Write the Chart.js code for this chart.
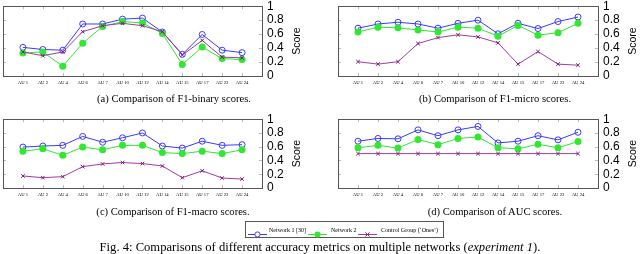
<!DOCTYPE html>
<html><head><meta charset="utf-8">
<script src="https://cdn.jsdelivr.net/npm/chart.js@4.4.0/dist/chart.umd.min.js"></script>
<style>
html,body{margin:0;padding:0;background:#fff;width:640px;height:254px;overflow:hidden;position:relative;}
canvas{position:absolute;}
.cap{position:absolute;font-family:"Liberation Serif","DejaVu Serif",serif;font-size:10.6px;color:#000;white-space:nowrap;transform:translate(-50%,-50%);line-height:1;}
#figcap{font-size:12.6px;}
#legend{position:absolute;left:245px;top:221px;width:197px;height:15px;border:1px solid #555;background:#fff;}
#legend .smp{position:absolute;top:3px;}
#legend .txt{position:absolute;top:0;line-height:16px;font-family:"Liberation Serif",serif;font-size:6px;white-space:nowrap;color:#000;}
</style></head><body>
<canvas id="cA"></canvas><canvas id="cB"></canvas><canvas id="cC"></canvas><canvas id="cD"></canvas>
<div class="cap" style="left:174px;top:99px;">(a) Comparison of F1-binary scores.</div>
<div class="cap" style="left:495px;top:99px;">(b) Comparison of F1-micro scores.</div>
<div class="cap" style="left:173px;top:212px;">(c) Comparison of F1-macro scores.</div>
<div class="cap" style="left:495px;top:212px;">(d) Comparison of AUC scores.</div>
<div id="legend"></div>
<div class="cap" id="figcap" style="left:320px;top:247px;">Fig. 4: Comparisons of different accuracy metrics on multiple networks (<i>experiment 1</i>).</div>
<script>
const categories = ['AU 1','AU 2','AU 4','AU 6','AU 7','AU 10','AU 12','AU 14','AU 15','AU 17','AU 23','AU 24'];
const yTickValues = [0, 0.2, 0.4, 0.6, 0.8, 1];
const yTickLabels = ['0', '0.2', '0.4', '0.6', '0.8', '1'];
const seriesNames = ['Network 1 [30]', 'Network 2', 'Control Group (\u2018Ones\u2019)'];

const f1BinaryNet1    = [0.41, 0.38, 0.37, 0.745, 0.745, 0.815, 0.83, 0.63, 0.31, 0.595, 0.37, 0.335];
const f1BinaryNet2    = [0.33, 0.345, 0.14, 0.47, 0.71, 0.78, 0.76, 0.61, 0.165, 0.415, 0.25, 0.235];
const f1BinaryControl = [0.345, 0.29, 0.345, 0.635, 0.72, 0.755, 0.72, 0.635, 0.30, 0.51, 0.27, 0.26];

const f1MicroNet1    = [0.685, 0.745, 0.77, 0.745, 0.685, 0.755, 0.80, 0.605, 0.755, 0.68, 0.78, 0.845];
const f1MicroNet2    = [0.63, 0.70, 0.69, 0.66, 0.63, 0.70, 0.685, 0.57, 0.725, 0.585, 0.62, 0.755];
const f1MicroControl = [0.205, 0.17, 0.205, 0.465, 0.55, 0.59, 0.56, 0.475, 0.17, 0.35, 0.17, 0.155];

const f1MacroNet1    = [0.595, 0.61, 0.62, 0.75, 0.665, 0.73, 0.80, 0.61, 0.58, 0.68, 0.62, 0.63];
const f1MacroNet2    = [0.535, 0.57, 0.475, 0.595, 0.555, 0.62, 0.62, 0.515, 0.50, 0.535, 0.50, 0.555];
const f1MacroControl = [0.175, 0.15, 0.165, 0.31, 0.35, 0.37, 0.355, 0.32, 0.15, 0.25, 0.145, 0.13];

const aucNet1    = [0.68, 0.72, 0.715, 0.845, 0.76, 0.845, 0.895, 0.655, 0.68, 0.76, 0.70, 0.81];
const aucNet2    = [0.585, 0.62, 0.58, 0.705, 0.63, 0.72, 0.74, 0.585, 0.57, 0.635, 0.585, 0.675];
const aucControl = [0.5, 0.5, 0.5, 0.5, 0.5, 0.5, 0.5, 0.5, 0.5, 0.5, 0.5, 0.5];

const BLUE = '#3a3aff', GREEN = '#2fe82f', PURPLE = '#a03ca0', PURPLE_MK = '#7a1a7a';

const framePlugin = {
  id: 'frame',
  beforeDatasetsDraw(chart) {
    const {ctx, chartArea: a, scales: {x, y}} = chart;
    ctx.save();
    ctx.strokeStyle = '#aaa'; ctx.lineWidth = 0.8;
    ctx.beginPath();
    x.ticks.forEach(t => { const px = Math.round(x.getPixelForValue(t.value)) + 0.5;
      ctx.moveTo(px, a.top); ctx.lineTo(px, a.top + 3); ctx.moveTo(px, a.bottom); ctx.lineTo(px, a.bottom - 3); });
    y.ticks.forEach(t => { const py = Math.round(y.getPixelForValue(t.value)) + 0.5;
      ctx.moveTo(a.left, py); ctx.lineTo(a.left + 3, py); ctx.moveTo(a.right, py); ctx.lineTo(a.right - 3, py); });
    ctx.stroke();
    ctx.strokeStyle = '#555'; ctx.lineWidth = 1;
    ctx.strokeRect(Math.round(a.left) + 0.5, Math.round(a.top) + 0.5, Math.round(a.right - a.left), Math.round(a.bottom - a.top));
    ctx.restore();
  },
  afterDraw(chart) {
    const {ctx, chartArea: a} = chart;
    ctx.save();
    ctx.translate(a.right + 35, (a.top + a.bottom) / 2);
    ctx.rotate(-Math.PI / 2);
    ctx.font = '10.5px "Liberation Sans", Arial, sans-serif';
    ctx.textAlign = 'center'; ctx.textBaseline = 'middle'; ctx.fillStyle = '#000';
    ctx.fillText('Score', 0, 0);
    ctx.restore();
  }
};

function makePanel(id, box, s1, s2, s3) {
  const padL = 10, padT = 10, axisW = 50, axisH = 20;
  const cw = box.right - box.left, ch = box.bottom - box.top;
  const W = padL + cw + axisW, H = padT + ch + axisH;
  const cv = document.getElementById(id);
  cv.width = W; cv.height = H;
  cv.style.left = (box.left - padL) + 'px'; cv.style.top = (box.top - padT) + 'px';
  cv.style.width = W + 'px'; cv.style.height = H + 'px';
  const pts = arr => arr.map((v, i) => ({x: i + 1, y: v}));
  new Chart(cv, {
    type: 'line',
    data: {datasets: [
      {label: seriesNames[0], data: pts(s1), borderColor: BLUE, borderWidth: 1, pointStyle: 'circle', pointRadius: 3,
       pointBorderWidth: 1, pointBorderColor: BLUE, pointBackgroundColor: 'rgba(255,255,255,0)', backgroundColor: 'rgba(0,0,0,0)', order: 2},
      {label: seriesNames[1], data: pts(s2), borderColor: GREEN, borderWidth: 1, pointStyle: 'circle', pointRadius: 3.5,
       pointBorderWidth: 0, pointBorderColor: GREEN, pointBackgroundColor: GREEN, backgroundColor: GREEN, order: 1},
      {label: seriesNames[2], data: pts(s3), borderColor: PURPLE, borderWidth: 1, pointStyle: 'crossRot', pointRadius: 2.5,
       pointBorderWidth: 1, pointBorderColor: PURPLE_MK, pointBackgroundColor: PURPLE_MK, backgroundColor: PURPLE, order: 0}
    ]},
    options: {
      responsive: false, animation: false, devicePixelRatio: 1,
      layout: {padding: {left: padL, top: padT, right: 0, bottom: 0}},
      plugins: {legend: {display: false}, tooltip: {enabled: false}},
      elements: {line: {tension: 0, fill: false}},
      scales: {
        x: {type: 'linear', min: 0, max: 13,
            grid: {display: false, drawTicks: false}, border: {display: false},
            afterBuildTicks: s => { s.ticks = categories.map((_, i) => ({value: i + 1})); },
            afterFit: s => { s.height = axisH; },
            ticks: {autoSkip: false, maxRotation: 0, minRotation: 0, padding: 4, color: '#000',
                    font: {family: '"Liberation Serif", serif', size: 4.7},
                    callback: v => categories[Math.round(v) - 1]}},
        y: {position: 'right', min: 0, max: 1,
            grid: {display: false, drawTicks: false}, border: {display: false},
            afterBuildTicks: s => { s.ticks = yTickValues.map(v => ({value: v})); },
            afterFit: s => { s.width = axisW; },
            ticks: {autoSkip: false, padding: 5, color: '#000', font: {family: '"Liberation Sans", Arial, sans-serif', size: 12},
                    callback: (v, i) => yTickLabels[i]}}
      }
    },
    plugins: [framePlugin]
  });
}

makePanel('cA', {left: 3, right: 262, top: 4, bottom: 76}, f1BinaryNet1, f1BinaryNet2, f1BinaryControl);
makePanel('cB', {left: 338, right: 598, top: 4, bottom: 76}, f1MicroNet1, f1MicroNet2, f1MicroControl);
makePanel('cC', {left: 3, right: 262, top: 117, bottom: 188}, f1MacroNet1, f1MacroNet2, f1MacroControl);
makePanel('cD', {left: 338, right: 598, top: 117, bottom: 188}, aucNet1, aucNet2, aucControl);

// legend
const legend = document.getElementById('legend');
const legendItems = [
  {smp: 2, txt: 23, color: BLUE, mk: '<circle cx="9.5" cy="4.5" r="2.6" fill="#fff" stroke="' + BLUE + '" stroke-width="1"/>'},
  {smp: 62, txt: 85, color: GREEN, mk: '<circle cx="9.5" cy="4.5" r="3" fill="' + GREEN + '"/>'},
  {smp: 112, txt: 135, color: PURPLE, mk: '<path d="M7.5 2.5 L11.5 6.5 M11.5 2.5 L7.5 6.5" stroke="' + PURPLE_MK + '" stroke-width="1"/>'}
];
legendItems.forEach((it, i) => {
  const s = document.createElement('span');
  s.className = 'smp'; s.style.left = it.smp + 'px';
  s.innerHTML = '<svg width="19" height="9" viewBox="0 0 19 9"><line x1="0" y1="4.5" x2="19" y2="4.5" stroke="' + it.color + '" stroke-width="1"/>' + it.mk + '</svg>';
  legend.appendChild(s);
  const t = document.createElement('span');
  t.className = 'txt'; t.style.left = it.txt + 'px'; t.textContent = seriesNames[i];
  legend.appendChild(t);
});
</script>
</body></html>
